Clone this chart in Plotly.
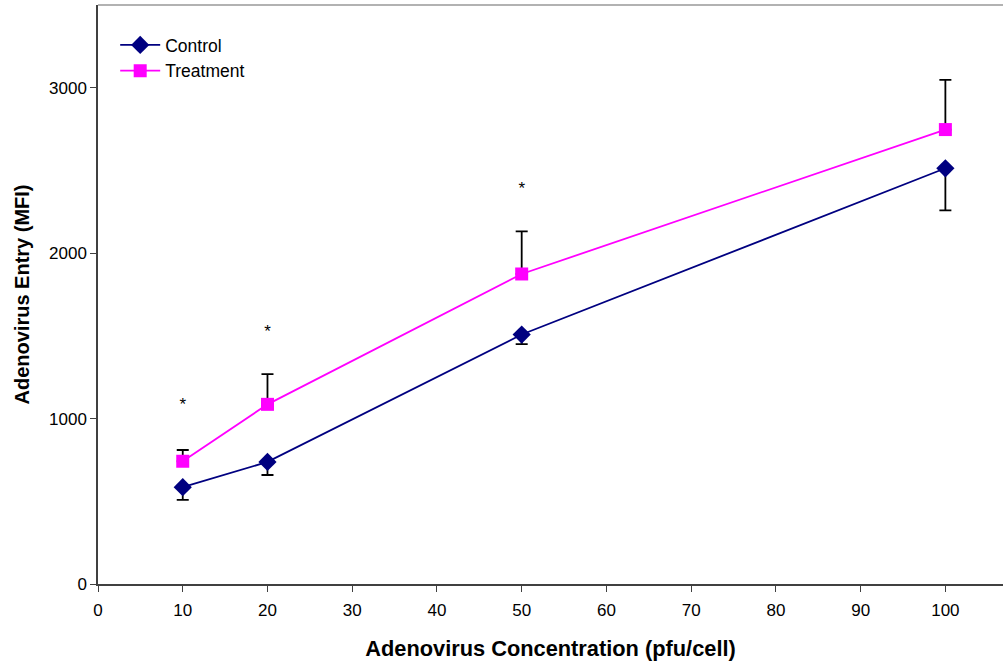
import plotly.graph_objects as go

conc = [10, 20, 50, 100]
control = [585, 738, 1508, 2513]
control_err = [77, 79, 58, 255]
treatment = [742, 1086, 1874, 2747]
treatment_err = [68, 183, 257, 300]
star_x = [10, 20, 50]
star_y = [1075, 1520, 2385]

fig = go.Figure()
fig.add_trace(go.Scatter(
    x=conc, y=control, name="Control", mode="lines+markers",
    line=dict(color="#000080", width=1.8),
    marker=dict(symbol="diamond", size=14, color="#000080"),
    error_y=dict(type="data", array=[0]*4, arrayminus=control_err, symmetric=False,
                 color="black", thickness=1.8, width=6),
))
fig.add_trace(go.Scatter(
    x=conc, y=treatment, name="Treatment", mode="lines+markers",
    line=dict(color="#FF00FF", width=1.8),
    marker=dict(symbol="square", size=13, color="#FF00FF"),
    error_y=dict(type="data", array=treatment_err, arrayminus=[0]*4, symmetric=False,
                 color="black", thickness=1.8, width=6),
))
fig.add_trace(go.Scatter(
    x=star_x, y=star_y, mode="text", text=["*"]*3, showlegend=False,
    textfont=dict(family="Liberation Sans, Arial", size=17, color="black"),
    hoverinfo="skip",
))

fig.update_layout(
    width=1003, height=662,
    margin=dict(l=98, r=0, t=5, b=78),
    paper_bgcolor="white", plot_bgcolor="white",
    font=dict(family="Liberation Sans, Arial", size=16, color="black"),
    showlegend=True,
    legend=dict(x=0.019, y=0.962, xanchor="left", yanchor="top",
                bgcolor="rgba(0,0,0,0)", font=dict(size=17.5), tracegroupgap=0,
                itemwidth=40),
    xaxis=dict(range=[0, 106.8], tickmode="linear", tick0=0, dtick=10,
               showgrid=False, zeroline=False, showline=True, linecolor="#404040",
               linewidth=1.5, ticks="outside", ticklen=6, tickcolor="#404040",
               tickfont=dict(size=17), ticklabelstandoff=4,
               title=dict(text="<b>Adenovirus Concentration (pfu/cell)</b>",
                          font=dict(size=21.8), standoff=22)),
    yaxis=dict(range=[0, 3500], tickmode="array", tickvals=[0, 1000, 2000, 3000],
               showgrid=False, zeroline=False, showline=True, linecolor="#404040",
               linewidth=1.5, ticks="outside", ticklen=6, tickcolor="#404040",
               tickfont=dict(size=17),
               title=dict(text="<b>Adenovirus Entry (MFI)</b>",
                          font=dict(size=20), standoff=14)),
)
fig.add_shape(type="line", xref="paper", yref="paper", x0=0, x1=1, y0=1, y1=1,
              line=dict(color="#999999", width=1.5))

fig.write_html("out.html", config={"displayModeBar": False},
               post_script="document.body.style.margin='0';document.body.style.padding='0';")
